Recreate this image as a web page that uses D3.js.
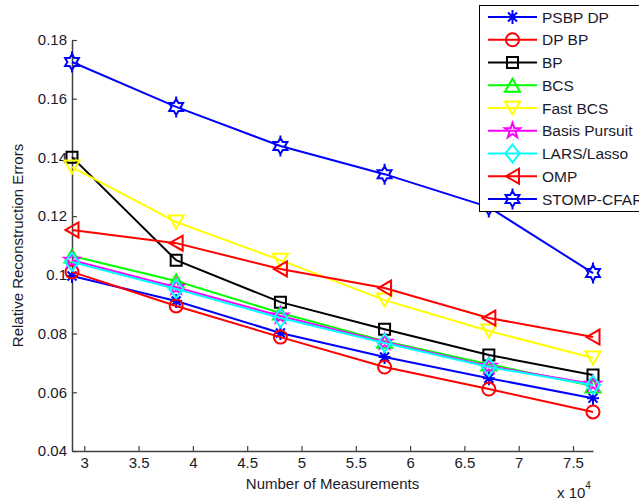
<!DOCTYPE html>
<html>
<head>
<meta charset="utf-8">
<script src="https://cdn.jsdelivr.net/npm/d3@7"></script>
<style>
  html, body { margin: 0; padding: 0; background: #fff; }
  svg { display: block; font-family: Arial, "Liberation Sans", sans-serif; }
</style>
</head>
<body>
<div id="chart"></div>
<script>
// x values are in units of 10^4 measurements
const xValues = [2.887, 3.846, 4.806, 5.765, 6.725, 7.684];
const xTicks = [3, 3.5, 4, 4.5, 5, 5.5, 6, 6.5, 7, 7.5];
const yTicks = [0.04, 0.06, 0.08, 0.10, 0.12, 0.14, 0.16, 0.18];

const seriesNames = ["PSBP DP", "DP BP", "BP", "BCS", "Fast BCS", "Basis Pursuit", "LARS/Lasso", "OMP", "STOMP-CFAR"];
const psbpDp      = [0.0996, 0.0911, 0.0802, 0.0720, 0.0648, 0.0580];
const dpBp        = [0.1010, 0.0894, 0.0788, 0.0686, 0.0611, 0.0533];
const bp          = [0.1401, 0.1050, 0.0907, 0.0815, 0.0727, 0.0659];
const bcs         = [0.1064, 0.0979, 0.0870, 0.0774, 0.0696, 0.0621];
const fastBcs     = [0.1367, 0.1180, 0.1050, 0.0914, 0.0809, 0.0717];
const basisPursuit= [0.1050, 0.0958, 0.0860, 0.0771, 0.0689, 0.0628];
const larsLasso   = [0.1044, 0.0952, 0.0853, 0.0768, 0.0686, 0.0625];
const omp         = [0.1153, 0.1108, 0.1020, 0.0955, 0.0853, 0.0788];
const stompCfar   = [0.1725, 0.1572, 0.1439, 0.1343, 0.1231, 0.1006];

const series = [
  { name: seriesNames[0], values: psbpDp,       color: "#0000ff", marker: "asterisk" },
  { name: seriesNames[1], values: dpBp,         color: "#ff0000", marker: "circle" },
  { name: seriesNames[2], values: bp,           color: "#000000", marker: "square" },
  { name: seriesNames[3], values: bcs,          color: "#00ff00", marker: "triUp" },
  { name: seriesNames[4], values: fastBcs,      color: "#ffff00", marker: "triDown" },
  { name: seriesNames[5], values: basisPursuit, color: "#ff00ff", marker: "pentagram" },
  { name: seriesNames[6], values: larsLasso,    color: "#00ffff", marker: "diamond" },
  { name: seriesNames[7], values: omp,          color: "#ff0000", marker: "triLeft" },
  { name: seriesNames[8], values: stompCfar,    color: "#0000ff", marker: "hexagram" }
];

const width = 639, height = 502;
const plot = { left: 72, right: 593, top: 40, bottom: 451 };

function starPath(points, outer, inner) {
  let d = "";
  for (let i = 0; i < points * 2; i++) {
    const r = i % 2 === 0 ? outer : inner;
    const a = -Math.PI / 2 + i * Math.PI / points;
    d += (i === 0 ? "M" : "L") + (r * Math.cos(a)).toFixed(2) + "," + (r * Math.sin(a)).toFixed(2);
  }
  return d + "Z";
}

// marker shapes, MATLAB style
const markerPaths = {
  asterisk: "M0,-7V7M-6,0H6M-4.5,-4.5L4.5,4.5M-4.5,4.5L4.5,-4.5",
  circle: "M6.5,0A6.5,6.5 0 1,1 -6.5,0A6.5,6.5 0 1,1 6.5,0Z",
  square: "M-5.5,-5.5H5.5V5.5H-5.5Z",
  triUp: "M0,-6.5L7.5,6.5H-7.5Z",
  triDown: "M0,6.5L7.5,-6.5H-7.5Z",
  triLeft: "M-6.5,0L6.5,-7.5V7.5Z",
  diamond: "M0,-9L7,0L0,9L-7,0Z",
  pentagram: starPath(5, 8, 3.2),
  hexagram: starPath(6, 8, 4.6) + "M0,-10.5V-8M0,8V10.5"
};

const svg = d3.select("#chart").append("svg")
  .attr("width", width)
  .attr("height", height);

const x = d3.scaleLinear().domain([xValues[0], xValues[xValues.length - 1]]).range([plot.left, plot.right]);
const y = d3.scaleLinear().domain([0.04, 0.18]).range([plot.bottom, plot.top]);

// axes (ticks point inward, like matlab)
const xAxis = svg.append("g")
  .attr("transform", `translate(0,${plot.bottom})`)
  .call(d3.axisBottom(x).tickValues(xTicks).tickSizeInner(-5).tickSizeOuter(0).tickPadding(6).tickFormat(d3.format("~g")));

const yAxis = svg.append("g")
  .attr("transform", `translate(${plot.left},0)`)
  .call(d3.axisLeft(y).tickValues(yTicks).tickSizeInner(-5).tickSizeOuter(0).tickPadding(5).tickFormat(d3.format(".2~f")));

[xAxis, yAxis].forEach(g => {
  g.select(".domain").attr("stroke", "#404040").attr("stroke-width", 1.5);
  g.selectAll(".tick line").attr("stroke", "#404040").attr("stroke-width", 1.2);
  g.selectAll(".tick text").attr("fill", "#1a1a2a").style("font-size", "15px").style("font-family", "Arial, 'Liberation Sans', sans-serif");
});

// axis labels
svg.append("text")
  .attr("x", (plot.left + plot.right) / 2)
  .attr("y", 489)
  .attr("text-anchor", "middle")
  .style("font-size", "15px")
  .attr("fill", "#1a1a2a")
  .text("Number of Measurements");

svg.append("text")
  .attr("transform", `translate(23,${(plot.top + plot.bottom) / 2}) rotate(-90)`)
  .attr("text-anchor", "middle")
  .style("font-size", "15px")
  .attr("fill", "#1a1a2a")
  .text("Relative Reconstruction Errors");

const expo = svg.append("text")
  .attr("x", 557)
  .attr("y", 498)
  .style("font-size", "15px")
  .attr("fill", "#1a1a2a");
expo.append("tspan").text("x 10");
expo.append("tspan").attr("dy", -9).style("font-size", "10px").text("4");

// lines + markers
const line = d3.line().x((d, i) => x(xValues[i])).y(d => y(d));

series.forEach(s => {
  const g = svg.append("g");
  g.append("path")
    .datum(s.values)
    .attr("d", line)
    .attr("fill", "none")
    .attr("stroke", s.color)
    .attr("stroke-width", 2);
  g.selectAll(".mk")
    .data(s.values)
    .enter()
    .append("path")
    .attr("transform", (d, i) => `translate(${x(xValues[i])},${y(d)})`)
    .attr("d", markerPaths[s.marker])
    .attr("fill", "none")
    .attr("stroke", s.color)
    .attr("stroke-width", 2);
});

// legend box, top right (runs off the edge like the original)
const legend = svg.append("g");
legend.append("rect")
  .attr("x", 479.5)
  .attr("y", 5.5)
  .attr("width", 180)
  .attr("height", 206)
  .attr("fill", "#fff")
  .attr("stroke", "#000")
  .attr("stroke-width", 1);

const rows = legend.selectAll(".row")
  .data(series)
  .enter()
  .append("g")
  .attr("transform", (d, i) => `translate(0,${17 + i * 22.75})`);

rows.append("line")
  .attr("x1", 488).attr("x2", 537)
  .attr("stroke", d => d.color)
  .attr("stroke-width", 2);

rows.append("path")
  .attr("transform", "translate(512.5,0)")
  .attr("d", d => markerPaths[d.marker])
  .attr("fill", "none")
  .attr("stroke", d => d.color)
  .attr("stroke-width", 2);

rows.append("text")
  .attr("x", 542)
  .attr("dy", "0.36em")
  .style("font-size", "15.5px")
  .attr("fill", "#1a1a2a")
  .text(d => d.name);
</script>
</body>
</html>
